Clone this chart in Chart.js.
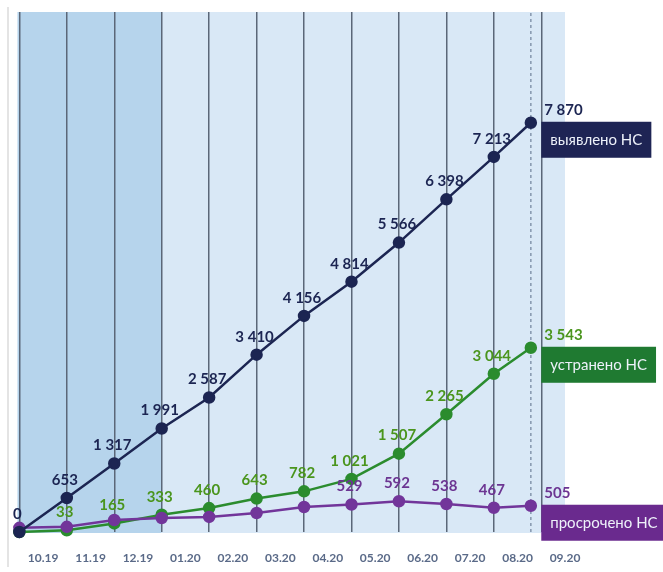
<!DOCTYPE html>
<html>
<head>
<meta charset="utf-8">
<script src="https://cdn.jsdelivr.net/npm/chart.js@4/dist/chart.umd.min.js"></script>
<style>
    html, body { margin: 0; padding: 0; background: #fff; }
    #wrap { width: 663px; height: 572px; }
</style>
</head>
<body>
<div id="wrap"><canvas id="grafico"></canvas></div>
<script>
// Месяцы (подписи между линиями сетки)
const monthLabels = ['10.19', '11.19', '12.19', '01.20', '02.20', '03.20', '04.20', '05.20', '06.20', '07.20', '08.20', '09.20'];
// Положение точек на оси (последняя точка — середина месяца)
const pointX = [0, 1, 2, 3, 4, 5, 6, 7, 8, 9, 10, 10.78];

const detected = [0, 653, 1317, 1991, 2587, 3410, 4156, 4814, 5566, 6398, 7213, 7870];
const fixed = [0, 33, 165, 333, 460, 643, 782, 1021, 1507, 2265, 3044, 3543];
const overdue = [80, 100, 230, 270, 290, 365, 480, 529, 592, 538, 467, 505];

const seriesNames = ['выявлено НС', 'устранено НС', 'просрочено НС'];
// с какой точки подписывать значения
const labelFrom = [0, 1, 7];
// границы фоновых полос (в единицах оси X)
const bandEdges = [-0.04, 3, 11.5];

const colNavy = '#1c2552';
const colGreen = '#2b8c2e';
const colPurple = '#72359a';

function formatNum(v) {
    return String(v).replace(/\B(?=(\d{3})+(?!\d))/g, ' ');
}

function toPoints(arr) {
    return arr.map((v, i) => ({ x: pointX[i], y: v }));
}

// фон рисуем до сетки, чтобы линии сетки были видны
const fondo = {
    id: 'fondo',
    beforeDraw(chart) {
        const { ctx, chartArea, scales } = chart;
        const x = scales.x;
        const bandColors = ['#b6d4ec', '#d9e8f6'];
        ctx.save();
        for (let i = 0; i < bandEdges.length - 1; i++) {
            const a = x.getPixelForValue(bandEdges[i]);
            const b = x.getPixelForValue(bandEdges[i + 1]);
            ctx.fillStyle = bandColors[i];
            ctx.fillRect(a, chartArea.top, b - a, chartArea.bottom - chartArea.top + 1);
        }
        // рамка слева
        ctx.strokeStyle = '#c9c9c9';
        ctx.lineWidth = 1;
        ctx.beginPath();
        ctx.moveTo(chartArea.left + 0.5, 7);
        ctx.lineTo(chartArea.left + 0.5, 567);
        ctx.stroke();
        ctx.restore();
    }
};

const etiquetas = {
    id: 'etiquetas',
    afterDatasetsDraw(chart) {
        const { ctx, scales } = chart;
        const boxX = scales.x.getPixelForValue(11);
        const textCols = [colNavy, '#4a951d', '#6c3592'];
        const boxCols = ['#1e2454', '#1f7a31', '#6a2a8e'];
        ctx.save();
        for (let s = 0; s < 3; s++) {
            const meta = chart.getDatasetMeta(s);
            const vals = chart.data.datasets[s].data;
            const last = vals.length - 1;
            ctx.font = 'bold 15px Lato, "Open Sans", sans-serif';
            ctx.fillStyle = textCols[s];
            ctx.textBaseline = 'middle';
            for (let j = labelFrom[s]; j <= last; j++) {
                const el = meta.data[j];
                if (j === last) {
                    ctx.textAlign = 'left';
                    ctx.fillText(formatNum(vals[j].y), boxX + 3, el.y - 13);
                } else {
                    ctx.textAlign = 'center';
                    ctx.fillText(formatNum(vals[j].y), el.x - 2, el.y - 18);
                }
            }
            // плашка с названием
            const el = meta.data[last];
            ctx.font = '15px Lato, "Open Sans", sans-serif';
            const w = ctx.measureText(seriesNames[s]).width + 18;
            ctx.fillStyle = boxCols[s];
            ctx.fillRect(boxX, el.y - 1, w, 36);
            ctx.fillStyle = '#eef2fa';
            ctx.textAlign = 'left';
            ctx.fillText(seriesNames[s], boxX + 9, el.y + 17);
        }
        ctx.restore();
    }
};

const tickValues = [];
for (let v = 0; v <= 11.5; v += 0.5) tickValues.push(v);

function serie(label, data, color, order) {
    return {
        label: label,
        data: toPoints(data),
        borderColor: color,
        backgroundColor: color,
        borderWidth: 2.5,
        pointRadius: 5,
        pointBackgroundColor: color,
        pointBorderColor: color,
        tension: 0,
        clip: false,
        order: order
    };
}

const config = {
    type: 'line',
    data: {
        datasets: [
            serie(seriesNames[0], detected, colNavy, 1),
            serie(seriesNames[1], fixed, colGreen, 3),
            serie(seriesNames[2], overdue, colPurple, 2),
            {
                label: 'отчетная дата',
                data: [{ x: pointX[pointX.length - 1], y: 0 }, { x: pointX[pointX.length - 1], y: 10000 }],
                borderColor: '#8596ad',
                borderWidth: 1.5,
                borderDash: [3, 3],
                pointRadius: 0,
                order: 10
            }
        ]
    },
    options: {
        responsive: true,
        maintainAspectRatio: false,
        animation: false,
        layout: { padding: { left: 7, top: 12, right: 98, bottom: 6 } },
        plugins: {
            legend: { display: false },
            tooltip: { enabled: false }
        },
        scales: {
            x: {
                type: 'linear',
                min: -0.25,
                max: 11.5,
                afterBuildTicks: (axis) => {
                    axis.ticks = tickValues.map(v => ({ value: v }));
                },
                afterFit: (axis) => {
                    axis.height = 34;
                },
                ticks: {
                    autoSkip: false,
                    maxRotation: 0,
                    padding: 19,
                    color: '#5a6a88',
                    font: { family: 'Lato, "Open Sans", sans-serif', size: 12, weight: 'bold' },
                    callback: (value) => Number.isInteger(value) ? '' : monthLabels[Math.floor(value)]
                },
                grid: {
                    drawTicks: false,
                    lineWidth: 1.5,
                    color: (c) => (c.tick && Number.isInteger(c.tick.value)) ? '#5b6778' : 'rgba(0,0,0,0)'
                },
                border: { display: false }
            },
            y: {
                display: false,
                min: 0,
                max: 10000
            }
        }
    },
    plugins: [fondo, etiquetas]
};

new Chart(document.getElementById('grafico').getContext('2d'), config);
</script>
</body>
</html>
